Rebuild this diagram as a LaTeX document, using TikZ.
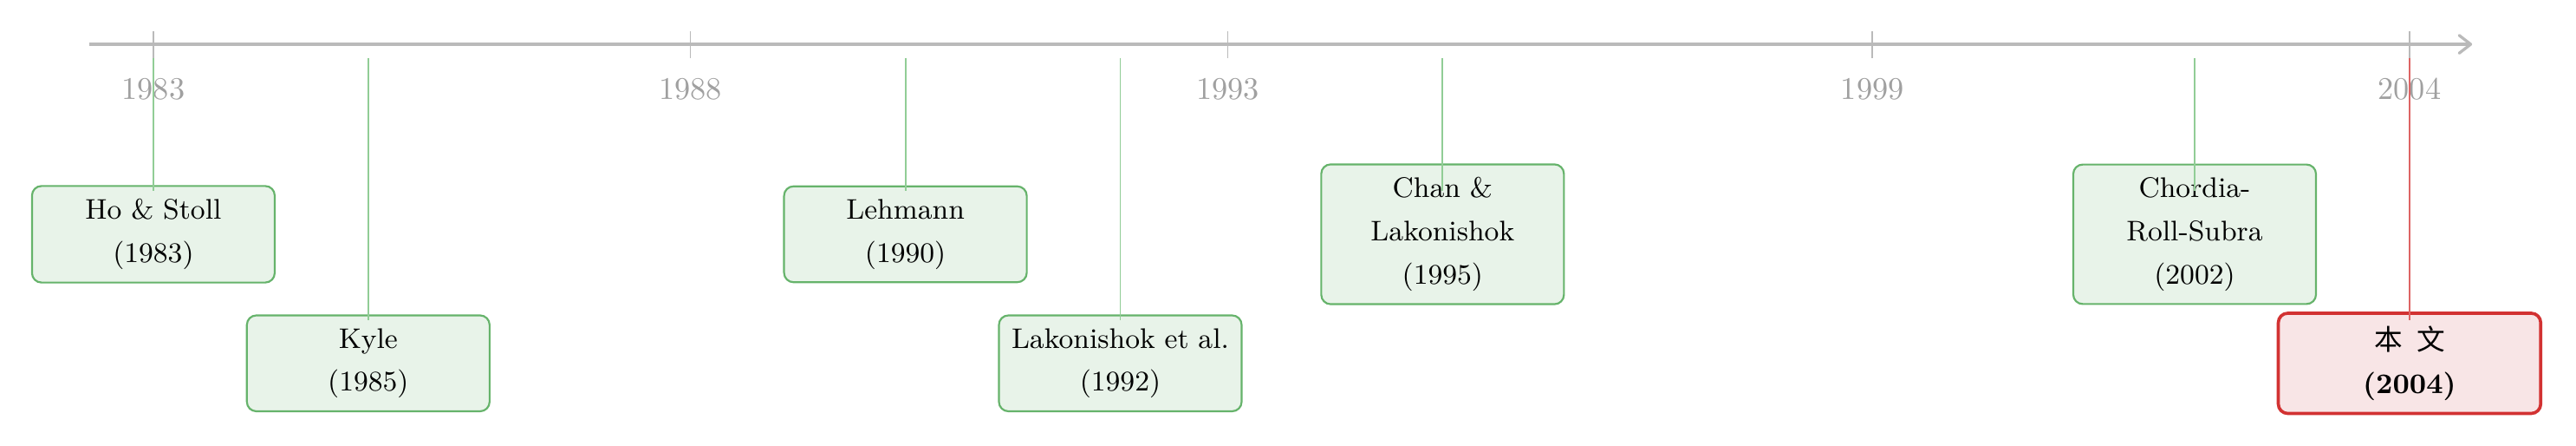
\documentclass[tikz,border=0pt]{standalone}
\usepackage{fontspec}
\newfontfamily\cjk{Noto Sans CJK SC}
\usepackage{tikz}
\usetikzlibrary{arrows.meta}
\usepackage{xcolor}
\definecolor{axisgrey}{RGB}{186,186,186}
\definecolor{labelgrey}{RGB}{160,160,160}
\definecolor{priorgreen}{RGB}{102,179,107}
\definecolor{priorfill}{RGB}{232,243,233}
\definecolor{linkgreen}{RGB}{145,205,150}
\definecolor{oursred}{RGB}{210,50,50}
\definecolor{oursfill}{RGB}{248,229,230}

\begin{document}
\begin{tikzpicture}[
    x=1.2cm,
    paperbox/.style={rectangle, rounded corners=3pt, text width=2.5cm, align=center, inner xsep=3pt, inner ysep=4.1pt, font=\linespread{1.25}\small},
    prior/.style={paperbox, fill=priorfill, draw=priorgreen, line width=0.6pt},
    ours/.style={paperbox, text width=2.72cm, fill=oursfill, draw=oursred, line width=1pt, font=\linespread{1.25}\small\bfseries},
    axisline/.style={-{Straight Barb[length=1.3mm, width=2mm, round]}, line width=0.9pt, axisgrey},
    tickmark/.style={axisgrey, line width=0.4pt},
    yearlabel/.style={font=\normalsize, text=labelgrey},
    link/.style={linkgreen, line width=0.5pt},
    ourlink/.style={oursred!75, line width=0.5pt}
]
\useasboundingbox (-1.713cm,0.494cm) rectangle (27.06cm,-4.482cm);

\coordinate (start) at (-0.716cm,0);
\coordinate (end) at (25.9cm,0);
\draw[axisline] (start) -- (end);

\draw[tickmark] (0,0.15) -- (0,-0.15);
\draw[tickmark] (5,0.15) -- (5,-0.15);
\draw[tickmark] (10,0.15) -- (10,-0.15);
\draw[tickmark] (16,0.15) -- (16,-0.15);
\draw[tickmark] (21,0.15) -- (21,-0.15);

\node[yearlabel] (y1983) at (0,-0.5) {1983};
\node[yearlabel] (y1988) at (5,-0.5) {1988};
\node[yearlabel] (y1993) at (10,-0.5) {1993};
\node[yearlabel] (y1999) at (16,-0.5) {1999};
\node[yearlabel] (y2004) at (21,-0.5) {2004};

\node[prior] (hostoll) at (0,-2.12) {Ho \& Stoll\\(1983)};
\node[prior] (kyle) at (2,-3.56) {Kyle\\(1985)};
\node[prior] (lehmann) at (7,-2.12) {Lehmann\\(1990)};
\node[prior] (lakon) at (9,-3.56) {Lakonishok et al.\\(1992)};
\node[prior] (chanlak) at (12,-2.12) {Chan \&\\Lakonishok\\(1995)};
\node[prior] (crs) at (19,-2.12) {Chordia-\\Roll-Subra\\(2002)};
\node[ours] (thispaper) at (21,-3.56) {{\cjk\mdseries 本\enspace 文}\\(2004)};

\coordinate (p1983) at (0,-0.15);
\coordinate (p1985) at (2,-0.15);
\coordinate (p1990) at (7,-0.15);
\coordinate (p1992) at (9,-0.15);
\coordinate (p1995) at (12,-0.15);
\coordinate (p2002) at (19,-0.15);
\coordinate (p2004) at (21,-0.15);

\draw[link] (p1983) -- ([yshift=4.8mm]hostoll.center);
\draw[link] (p1985) -- ([yshift=4.8mm]kyle.center);
\draw[link] (p1990) -- ([yshift=4.8mm]lehmann.center);
\draw[link] (p1992) -- ([yshift=4.8mm]lakon.center);
\draw[link] (p1995) -- ([yshift=4.8mm]chanlak.center);
\draw[link] (p2002) -- ([yshift=4.8mm]crs.center);
\draw[ourlink] (p2004) -- ([yshift=4.8mm]thispaper.center);
\end{tikzpicture}
\end{document}
